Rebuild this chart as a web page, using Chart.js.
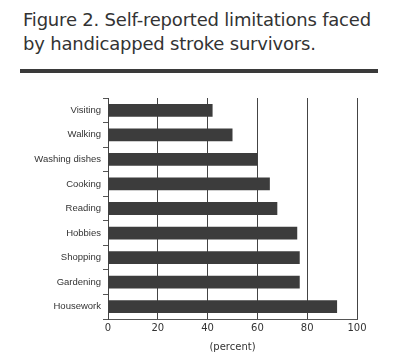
<!DOCTYPE html>
<html>
<head>
<meta charset="utf-8">
<script src="https://cdn.jsdelivr.net/npm/chart.js@4"></script>
<style>
	body { margin: 0; background: #fff; }
	#wrap { position: relative; width: 412px; height: 353px; overflow: hidden; }
	#title {
		position: absolute; left: 23px; top: 8px;
		font-family: "DejaVu Sans", sans-serif; font-size: 18px; line-height: 24px;
		color: #333; letter-spacing: -0.2px;
	}
	#rule { position: absolute; left: 20px; top: 69px; width: 358px; height: 4px; background: #3a3a3a; }
	#chart { position: absolute; left: 0; top: 0; }
</style>
</head>
<body>
<div id="wrap">
	<div id="title">Figure 2. Self-reported limitations faced<br>by handicapped stroke survivors.</div>
	<div id="rule"></div>
	<canvas id="chart" width="412" height="353"></canvas>
</div>
<script>
"use strict";

var categories = ["Visiting", "Walking", "Washing dishes", "Cooking", "Reading",
	"Hobbies", "Shopping", "Gardening", "Housework"];
var percentValues = [42, 50, 60, 65, 68, 76, 77, 77, 92];
var xTicks = [0, 20, 40, 60, 80, 100];

var ink = "#333";
var labelFont = { family: "Liberation Sans", size: 9.5 };

var ctx = document.getElementById("chart");
var chart = new Chart(ctx, {
	type: 'bar',
	data: {
		labels: categories,
		datasets: [
			{
				label: "Limitations",
				backgroundColor: "#3c3c3c",
				borderWidth: 0,
				barPercentage: 0.52,
				categoryPercentage: 1,
				data: percentValues
			}
		]
	},
	options: {
		indexAxis: 'y',
		responsive: false,
		animation: false,
		layout: { padding: { left: 0, right: 55, top: 98, bottom: 0 } },
		plugins: { legend: { display: false }, tooltip: { enabled: false } },
		scales: {
			x: {
				min: 0,
				max: 100,
				afterBuildTicks: function(axis) {
					axis.ticks = xTicks.map(function(v) { return { value: v }; });
				},
				afterFit: function(axis) { axis.height = 34; },
				grid: {
					color: function(c) { return c.tick && c.tick.value === 0 ? "rgba(0,0,0,0)" : "#444"; },
					lineWidth: 1,
					drawTicks: false
				},
				border: { display: true, color: "#555", width: 1 },
				ticks: { color: ink, font: { family: "DejaVu Sans", size: 10 }, padding: 3 },
				title: { display: true, text: "(percent)", color: ink, font: { family: "DejaVu Sans", size: 10 }, padding: { top: 2, bottom: 0 } }
			},
			y: {
				afterFit: function(axis) { axis.width = 108; },
				grid: { offset: true, drawOnChartArea: false, tickLength: 5, color: "#555" },
				border: { display: true, color: "#444", width: 1 },
				ticks: { color: ink, font: labelFont, padding: 2 }
			}
		}
	}
});
</script>
</body>
</html>
